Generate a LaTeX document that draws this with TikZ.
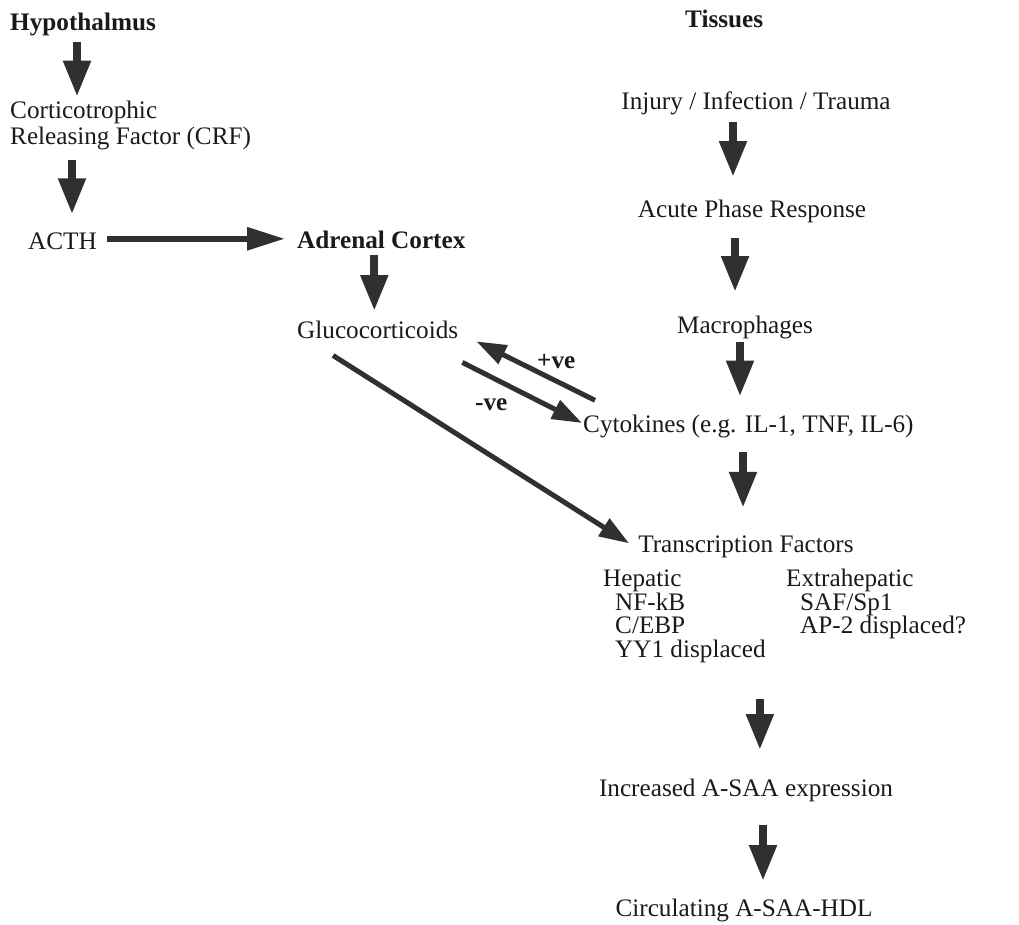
\documentclass[tikz,border=0pt]{standalone}
\usepackage{fontspec}
\setmainfont{Liberation Serif}
\usetikzlibrary{arrows.meta}
\definecolor{ink}{HTML}{1A1A1A}
\definecolor{shaft}{HTML}{303030}
\tikzset{
  lbl/.style={inner sep=0pt, anchor=base west, text=ink, font=\fontsize{25.2}{25.5}\selectfont},
  lblc/.style={lbl, anchor=base},
  hd/.style={font=\fontsize{25.2}{25.5}\selectfont\bfseries},
  fat/.style={draw=shaft, line width=8pt, -{Triangle[width=26pt,length=36pt]}},
  side/.style={draw=shaft, line width=6pt, -{Triangle[width=22pt,length=38pt]}},
  slant/.style={draw=shaft, line width=5pt, -{Triangle[width=20pt,length=30pt]}}
}
\begin{document}
\begin{tikzpicture}[x=1pt,y=-1pt]
\useasboundingbox (0,0) rectangle (1019,925);

% left column
\node[lbl, hd] (hyp) at (10,31) {Hypothalmus};
\node[lbl, anchor=north west, align=left] (crf) at (10,101) {Corticotrophic\\Releasing Factor (CRF)};
\node[lbl] (acth) at (28,250) {ACTH};
\node[lbl, hd] (adr) at (297,248) {Adrenal Cortex};
\node[lbl] (gluc) at (297,338) {Glucocorticoids};

% right column
\node[lbl, hd] (tis) at (685,28) {Tissues};
\node[lblc] (inj) at (756,110) {Injury / Infection / Trauma};
\node[lblc] (apr) at (752,218) {Acute Phase Response};
\node[lblc] (mac) at (745,333) {Macrophages};
\node[lbl] (cyt) at (583,432) {Cytokines (e.g. IL-1, TNF, IL-6)};
\node[lblc] (tf) at (746,552) {Transcription Factors};
\node[lbl, anchor=north west, align=left, font=\fontsize{25.2}{23.5}\selectfont] (hep) at (603,570)
  {Hepatic\\\hspace*{12pt}NF-kB\\\hspace*{12pt}C/EBP\\\hspace*{12pt}YY1 displaced};
\node[lbl, anchor=north west, align=left, font=\fontsize{25.2}{23.5}\selectfont] (ext) at (786,569)
  {Extrahepatic\\\hspace*{14pt}SAF/Sp1\\\hspace*{14pt}AP-2 displaced?};
\node[lblc] (inc) at (746,796) {Increased A-SAA expression};
\node[lblc] (circ) at (744,916) {Circulating A-SAA-HDL};

% feedback labels
\node[lbl, hd] (pos) at (537,368) {+ve};
\node[lbl, hd] (neg) at (475,410) {-ve};

% hormone axis
\draw[fat, shorten <=5.7pt, shorten >=4.3pt] ([xshift=-6pt]hyp.south) -- ([xshift=-6pt]hyp.south |- crf.north);
\draw[fat, shorten <=9.7pt, shorten >=18.8pt] ([xshift=62pt]crf.south west) -- ([xshift=62pt]crf.south west |- acth.north);
\draw[side, shorten <=10pt, shorten >=12pt] ([yshift=3pt]acth.east) -- ([yshift=3pt]acth.east -| adr.west);
\draw[fat, shorten <=7pt, shorten >=9.3pt] ([xshift=-7pt]adr.south) -- ([xshift=-7pt]adr.south |- gluc.north);

% glucocorticoid links
\draw[slant] ([xshift=12pt,yshift=14pt]cyt.north west) -- ([xshift=18pt,yshift=-12pt]gluc.east);
\draw[slant] ([xshift=4pt,yshift=-24pt]gluc.south east) -- ([xshift=-1pt,yshift=3pt]cyt.west);
\draw[slant] ([xshift=36pt,yshift=-17pt]gluc.south west) -- ([xshift=-9pt,yshift=3pt]tf.west);

% tissue cascade
\draw[fat, shorten <=6.7pt, shorten >=23.3pt] ([xshift=-23pt]inj.south) -- ([xshift=-23pt]inj.south |- apr.north);
\draw[fat, shorten <=14.7pt, shorten >=23.3pt] ([xshift=-17pt]apr.south) -- ([xshift=-17pt]apr.south |- mac.north);
\draw[fat, shorten <=3.7pt, shorten >=17.8pt] ([xshift=-5pt]mac.south) -- ([xshift=-5pt]mac.south |- cyt.north);
\draw[fat, shorten <=14.7pt, shorten >=27.3pt] ([xshift=160pt]cyt.south west) -- ([xshift=160pt]cyt.south west |- tf.north);
\draw[fat, shorten <=35.7pt, shorten >=28.3pt] ([xshift=-6pt]hep.south east) -- ([xshift=-6pt]hep.south east |- inc.north);
\draw[fat, shorten <=23.7pt, shorten >=17.3pt] ([xshift=17pt]inc.south) -- ([xshift=17pt]inc.south |- circ.north);
\end{tikzpicture}
\end{document}
